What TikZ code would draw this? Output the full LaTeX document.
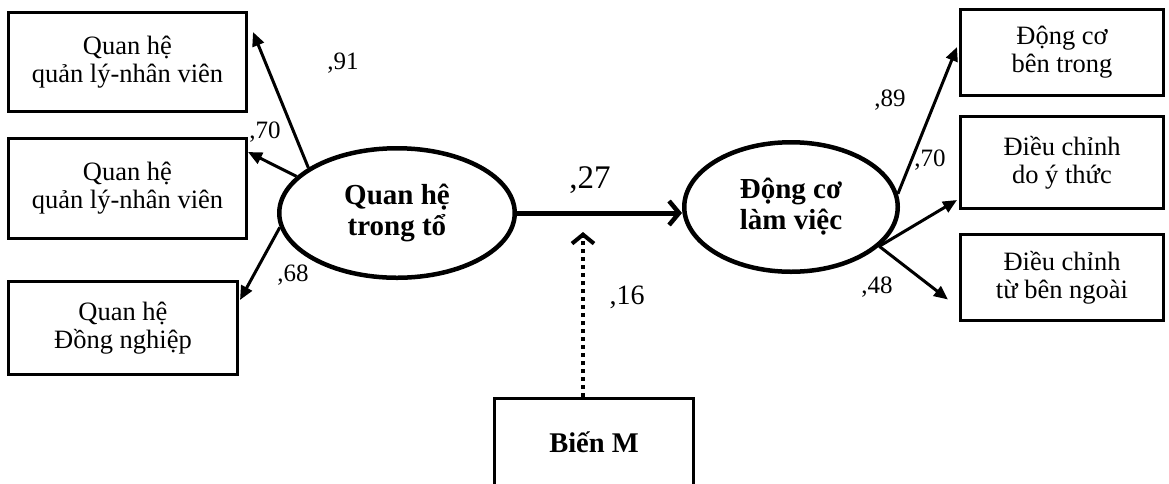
\documentclass[tikz,border=0pt]{standalone}
\usepackage{fontspec}
\setmainfont{Liberation Serif}
\usetikzlibrary{arrows.meta,shapes.geometric,calc}

\begin{document}
\begin{tikzpicture}[x=1pt,y=-1pt,
  box/.style={draw, line width=3pt, align=center, inner sep=0pt,
    font=\fontsize{26.5}{28}\selectfont},
  latent/.style={draw, ellipse, line width=4.5pt, align=center, inner sep=0pt,
    font=\fontsize{29}{31}\selectfont\bfseries},
  load/.style={line width=3pt, -{Triangle[length=14pt,width=12pt]}},
  coef/.style={font=\fontsize{25}{28}\selectfont, inner sep=0pt},
  path/.style={line width=5pt, -{Straight Barb[length=10pt,width=24pt,line width=4.5pt]}},
  moder/.style={line width=4pt, dash pattern=on 4pt off 4pt,
    -{Straight Barb[length=9pt,width=22pt,line width=4pt]}}
]
\clip (0,0) rectangle (1169,483);

% latent variables
\node[latent, minimum width=235.5pt, minimum height=129.5pt] (L) at (397,213) {Quan hệ\\trong tổ};
\node[latent, minimum width=213.5pt, minimum height=129.5pt] (R) at (791,207) {Động cơ\\làm việc};

% indicators of the first factor
\node[box, minimum width=238pt, minimum height=99pt] (b1) at (127.5,62) {Quan hệ\\quản lý-nhân viên};
\node[box, minimum width=238pt, minimum height=100pt] (b2) at (127.5,188.5) {Quan hệ\\quản lý-nhân viên};
\node[box, minimum width=229pt, minimum height=93pt] (b3) at (123,328) {Quan hệ\\Đồng nghiệp};

% indicators of the second factor
\node[box, minimum width=203pt, minimum height=86pt] (r1) at (1062,52.5) {Động cơ\\bên trong};
\node[box, minimum width=203pt, minimum height=92pt] (r2) at (1062,162.5) {Điều chỉnh\\do ý thức};
\node[box, minimum width=203pt, minimum height=86pt] (r3) at (1062,277.5) {Điều chỉnh\\từ bên ngoài};

% moderator
\node[box, minimum width=199pt, minimum height=87pt, font=\fontsize{28.5}{32}\selectfont\bfseries] (m) at (594,442) {Biến M};
\coordinate (mt) at (583,232);

% loadings
\draw[load] (L.153) -- ([xshift=5pt,yshift=-21pt]b1.north east);
\draw[load] (L.160) -- ([yshift=-15pt]b2.north east);
\draw[load] (L.187) -- ([xshift=1pt,yshift=-20pt]b3.north east);
\draw[load] (R.7.5) -- ([xshift=-2pt,yshift=-39pt]r1.north west);
\draw[load] (R.-24) -- ([xshift=-2pt,yshift=10pt]r2.south west);
\draw[load] (R.-24) -- ([xshift=-11pt,yshift=-22pt]r3.west);

% structural path and moderation
\draw[path] (L.east) -- (L.east -| R.west);
\draw[moder] (m.north -| mt) -- (mt);

% coefficients
\node[coef] (c91) at (343,63) {,91};
\node[coef] (c70a) at (265,132) {,70};
\node[coef] (c68) at (293,275) {,68};
\node[coef, font=\fontsize{33}{36}\selectfont] (c27) at (590,180) {,27};
\node[coef, font=\fontsize{28}{32}\selectfont] (c16) at (627,297) {,16};
\node[coef] (c89) at (890,100) {,89};
\node[coef] (c70b) at (930,160) {,70};
\node[coef] (c48) at (877,287) {,48};
\end{tikzpicture}
\end{document}
